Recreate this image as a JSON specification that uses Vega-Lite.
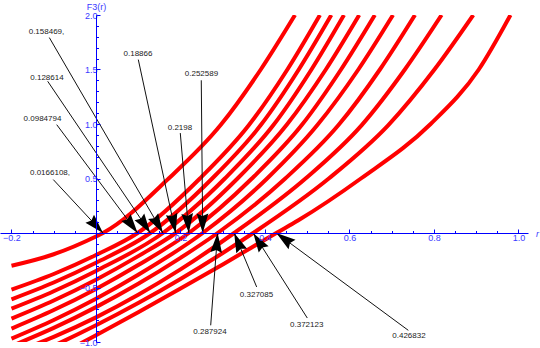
{
  "$schema": "https://vega.github.io/schema/vega-lite/v6.json",
  "width": 528,
  "height": 327,
  "autosize": {"type": "none"},
  "padding": {"left": 0, "top": 15, "right": 12, "bottom": 6},
  "background": "white",
  "config": {"view": {"stroke": null}, "font": "Liberation Sans", "axis": {"labelOverlap": false, "labelFlush": false, "labelBound": false, "grid": false}},
  "resolve": {"axis": {"x": "independent", "y": "independent"}},
  "datasets": {
    "curves": [
      {"c": "L1", "x": -0.2, "y": -0.30}, {"c": "L1", "x": -0.1, "y": -0.195}, {"c": "L1", "x": 0.0, "y": -0.032}, {"c": "L1", "x": 0.0166, "y": 0}, {"c": "L1", "x": 0.172, "y": 0.5}, {"c": "L1", "x": 0.295, "y": 0.99}, {"c": "L1", "x": 0.39, "y": 1.5}, {"c": "L1", "x": 0.471, "y": 2.0},
      {"c": "L2", "x": -0.2, "y": -0.519}, {"c": "L2", "x": -0.1, "y": -0.376}, {"c": "L2", "x": 0.0, "y": -0.202}, {"c": "L2", "x": 0.0985, "y": 0}, {"c": "L2", "x": 0.246, "y": 0.5}, {"c": "L2", "x": 0.362, "y": 0.99}, {"c": "L2", "x": 0.453, "y": 1.5}, {"c": "L2", "x": 0.53, "y": 2.0},
      {"c": "L3", "x": -0.2, "y": -0.608}, {"c": "L3", "x": -0.1, "y": -0.454}, {"c": "L3", "x": 0.0, "y": -0.273}, {"c": "L3", "x": 0.1286, "y": 0}, {"c": "L3", "x": 0.275, "y": 0.5}, {"c": "L3", "x": 0.39, "y": 0.99}, {"c": "L3", "x": 0.48, "y": 1.5}, {"c": "L3", "x": 0.557, "y": 2.0},
      {"c": "L4", "x": -0.2, "y": -0.694}, {"c": "L4", "x": -0.1, "y": -0.534}, {"c": "L4", "x": 0.0, "y": -0.348}, {"c": "L4", "x": 0.1585, "y": 0}, {"c": "L4", "x": 0.305, "y": 0.5}, {"c": "L4", "x": 0.42, "y": 0.99}, {"c": "L4", "x": 0.51, "y": 1.5}, {"c": "L4", "x": 0.587, "y": 2.0},
      {"c": "L5", "x": -0.2, "y": -0.785}, {"c": "L5", "x": -0.1, "y": -0.619}, {"c": "L5", "x": 0.0, "y": -0.428}, {"c": "L5", "x": 0.1, "y": -0.212}, {"c": "L5", "x": 0.1887, "y": 0}, {"c": "L5", "x": 0.335, "y": 0.5}, {"c": "L5", "x": 0.451, "y": 0.99}, {"c": "L5", "x": 0.544, "y": 1.5}, {"c": "L5", "x": 0.623, "y": 2.0},
      {"c": "L6", "x": -0.2, "y": -0.877}, {"c": "L6", "x": -0.1, "y": -0.707}, {"c": "L6", "x": 0.0, "y": -0.513}, {"c": "L6", "x": 0.1, "y": -0.294}, {"c": "L6", "x": 0.2198, "y": 0}, {"c": "L6", "x": 0.369, "y": 0.5}, {"c": "L6", "x": 0.487, "y": 0.99}, {"c": "L6", "x": 0.58, "y": 1.5}, {"c": "L6", "x": 0.66, "y": 2.0},
      {"c": "L7", "x": -0.2, "y": -0.969}, {"c": "L7", "x": -0.1, "y": -0.798}, {"c": "L7", "x": 0.0, "y": -0.603}, {"c": "L7", "x": 0.1, "y": -0.383}, {"c": "L7", "x": 0.2526, "y": 0}, {"c": "L7", "x": 0.405, "y": 0.5}, {"c": "L7", "x": 0.524, "y": 0.99}, {"c": "L7", "x": 0.621, "y": 1.5}, {"c": "L7", "x": 0.703, "y": 2.0},
      {"c": "L8", "x": -0.2, "y": -1.038}, {"c": "L8", "x": -0.1, "y": -0.871}, {"c": "L8", "x": 0.0, "y": -0.68}, {"c": "L8", "x": 0.1, "y": -0.466}, {"c": "L8", "x": 0.2, "y": -0.228}, {"c": "L8", "x": 0.2879, "y": 0}, {"c": "L8", "x": 0.448, "y": 0.5}, {"c": "L8", "x": 0.574, "y": 0.99}, {"c": "L8", "x": 0.672, "y": 1.5}, {"c": "L8", "x": 0.755, "y": 2.0},
      {"c": "L9", "x": -0.2, "y": -1.107}, {"c": "L9", "x": -0.1, "y": -0.953}, {"c": "L9", "x": 0.0, "y": -0.774}, {"c": "L9", "x": 0.1, "y": -0.567}, {"c": "L9", "x": 0.2, "y": -0.334}, {"c": "L9", "x": 0.3271, "y": 0}, {"c": "L9", "x": 0.496, "y": 0.5}, {"c": "L9", "x": 0.629, "y": 0.99}, {"c": "L9", "x": 0.731, "y": 1.5}, {"c": "L9", "x": 0.818, "y": 2.0},
      {"c": "L10", "x": -0.2, "y": -1.203}, {"c": "L10", "x": -0.1, "y": -1.034}, {"c": "L10", "x": 0.0, "y": -0.847}, {"c": "L10", "x": 0.1, "y": -0.643}, {"c": "L10", "x": 0.2, "y": -0.422}, {"c": "L10", "x": 0.3, "y": -0.183}, {"c": "L10", "x": 0.3721, "y": 0}, {"c": "L10", "x": 0.551, "y": 0.5}, {"c": "L10", "x": 0.692, "y": 0.99}, {"c": "L10", "x": 0.801, "y": 1.5}, {"c": "L10", "x": 0.893, "y": 2.0},
      {"c": "L11", "x": -0.2, "y": -1.346}, {"c": "L11", "x": -0.1, "y": -1.144}, {"c": "L11", "x": 0.0, "y": -0.938}, {"c": "L11", "x": 0.1, "y": -0.726}, {"c": "L11", "x": 0.2, "y": -0.509}, {"c": "L11", "x": 0.3, "y": -0.288}, {"c": "L11", "x": 0.4268, "y": 0}, {"c": "L11", "x": 0.479, "y": 0.117}, {"c": "L11", "x": 0.627, "y": 0.5}, {"c": "L11", "x": 0.792, "y": 1.0}, {"c": "L11", "x": 0.906, "y": 1.5}, {"c": "L11", "x": 0.981, "y": 2.0}
    ],
    "notes": [
      {"label": "0.0166108,", "tx": -0.1089, "ty": 0.552, "lx": -0.1011, "ly": 0.49, "rx": 0.0166108, "ry": 0},
      {"label": "0.0984794", "tx": -0.1266, "ty": 1.05, "lx": -0.093, "ly": 0.994, "rx": 0.0984794, "ry": 0},
      {"label": "0.128614", "tx": -0.116, "ty": 1.422, "lx": -0.1143, "ly": 1.392, "rx": 0.128614, "ry": 0},
      {"label": "0.158469,", "tx": -0.1172, "ty": 1.841, "lx": -0.1105, "ly": 1.793, "rx": 0.158469, "ry": 0},
      {"label": "0.18866", "tx": 0.0994, "ty": 1.639, "lx": 0.1001, "ly": 1.591, "rx": 0.18866, "ry": 0},
      {"label": "0.2198", "tx": 0.1988, "ty": 0.967, "lx": 0.1995, "ly": 0.917, "rx": 0.2198, "ry": 0},
      {"label": "0.252589", "tx": 0.2497, "ty": 1.456, "lx": 0.2492, "ly": 1.401, "rx": 0.252589, "ry": 0},
      {"label": "0.287924", "tx": 0.2698, "ty": -0.908, "lx": 0.2715, "ly": -0.847, "rx": 0.287924, "ry": 0},
      {"label": "0.327085", "tx": 0.3799, "ty": -0.572, "lx": 0.3803, "ly": -0.495, "rx": 0.327085, "ry": 0},
      {"label": "0.372123", "tx": 0.4987, "ty": -0.847, "lx": 0.5001, "ly": -0.78, "rx": 0.372123, "ry": 0},
      {"label": "0.426832", "tx": 0.7408, "ty": -0.945, "lx": 0.7392, "ly": -0.893, "rx": 0.426832, "ry": 0}
    ]
  },
  "layer": [
    {
      "data": {"name": "curves"},
      "mark": {"type": "line", "color": "#ff0000", "strokeWidth": 4, "interpolate": "monotone", "clip": true},
      "encoding": {
        "x": {
          "field": "x", "type": "quantitative",
          "scale": {"domain": [-0.2272, 1.0225], "nice": false, "zero": false},
          "axis": {
            "orient": "bottom", "offset": -109, "zindex": 1,
            "values": [-0.2, 0.2, 0.4, 0.6, 0.8, 1.0],
            "format": ".1f",
            "tickSize": -4, "tickWidth": 1, "tickColor": "#0000ff",
            "domainColor": "#0000ff", "domainWidth": 1,
            "labelColor": "#3a3aff", "labelFontSize": 9, "labelFont": "Liberation Sans", "labelPadding": 4,
            "title": "r", "titleX": 537, "titleY": 0, "titleAlign": "center", "titleBaseline": "middle",
            "titleFontStyle": "italic", "titleFontWeight": "normal", "titleFontSize": 9, "titleColor": "#3a3aff", "titleFont": "Liberation Sans"
          }
        },
        "y": {
          "field": "y", "type": "quantitative",
          "scale": {"domain": [-1, 2], "nice": false, "zero": false},
          "axis": {
            "orient": "left", "offset": -96, "zindex": 1,
            "values": [-1.0, -0.5, 0.5, 1.0, 1.5, 2.0],
            "format": ".1f",
            "tickSize": -4, "tickWidth": 1, "tickColor": "#0000ff",
            "domainColor": "#0000ff", "domainWidth": 1,
            "labelColor": "#3a3aff", "labelFontSize": 9, "labelFont": "Liberation Sans", "labelPadding": 3,
            "title": "F3(r)", "titleAngle": 0, "titleX": 0, "titleY": -9, "titleAlign": "center", "titleBaseline": "middle",
            "titleFontWeight": "normal", "titleFontSize": 9, "titleColor": "#3a3aff", "titleFont": "Liberation Sans"
          }
        },
        "detail": {"field": "c"},
        "order": {"field": "x", "type": "quantitative"}
      }
    },
    {
      "data": {"name": "notes"},
      "mark": {"type": "rule", "color": "#111111", "strokeWidth": 1},
      "encoding": {
        "x": {"field": "lx", "type": "quantitative",
          "axis": {"orient": "bottom", "offset": -109, "zindex": 1, "domain": false, "labels": false, "title": null,
            "values": [-0.15, -0.1, -0.05, 0.05, 0.1, 0.15, 0.25, 0.3, 0.35, 0.45, 0.5, 0.55, 0.65, 0.7, 0.75, 0.85, 0.9, 0.95],
            "tickSize": -2.5, "tickWidth": 1, "tickColor": "#0000ff"}},
        "y": {"field": "ly", "type": "quantitative",
          "axis": {"orient": "left", "offset": -96, "zindex": 1, "domain": false, "labels": false, "title": null,
            "values": [-0.9, -0.8, -0.7, -0.6, -0.4, -0.3, -0.2, -0.1, 0.1, 0.2, 0.3, 0.4, 0.6, 0.7, 0.8, 0.9, 1.1, 1.2, 1.3, 1.4, 1.6, 1.7, 1.8, 1.9],
            "tickSize": -2.5, "tickWidth": 1, "tickColor": "#0000ff"}},
        "x2": {"field": "rx"},
        "y2": {"field": "ry"}
      }
    },
    {
      "data": {"name": "notes"},
      "transform": [{"calculate": "atan2((datum.rx - datum.lx) * 422.5, (datum.ry - datum.ly) * 109) * 180 / PI", "as": "ang"}],
      "mark": {"type": "point", "shape": "M0,0L0.6,2L0,1.75L-0.6,2Z", "filled": true, "color": "#000000", "opacity": 1, "size": 380, "strokeWidth": 0},
      "encoding": {
        "x": {"field": "rx", "type": "quantitative", "axis": null},
        "y": {"field": "ry", "type": "quantitative", "axis": null},
        "angle": {"field": "ang", "type": "quantitative", "scale": null}
      }
    },
    {
      "data": {"name": "notes"},
      "mark": {"type": "text", "fontSize": 8, "color": "#222222", "font": "Liberation Sans", "align": "center", "baseline": "middle"},
      "encoding": {
        "x": {"field": "tx", "type": "quantitative", "axis": null},
        "y": {"field": "ty", "type": "quantitative", "axis": null},
        "text": {"field": "label", "type": "nominal"}
      }
    }
  ]
}
